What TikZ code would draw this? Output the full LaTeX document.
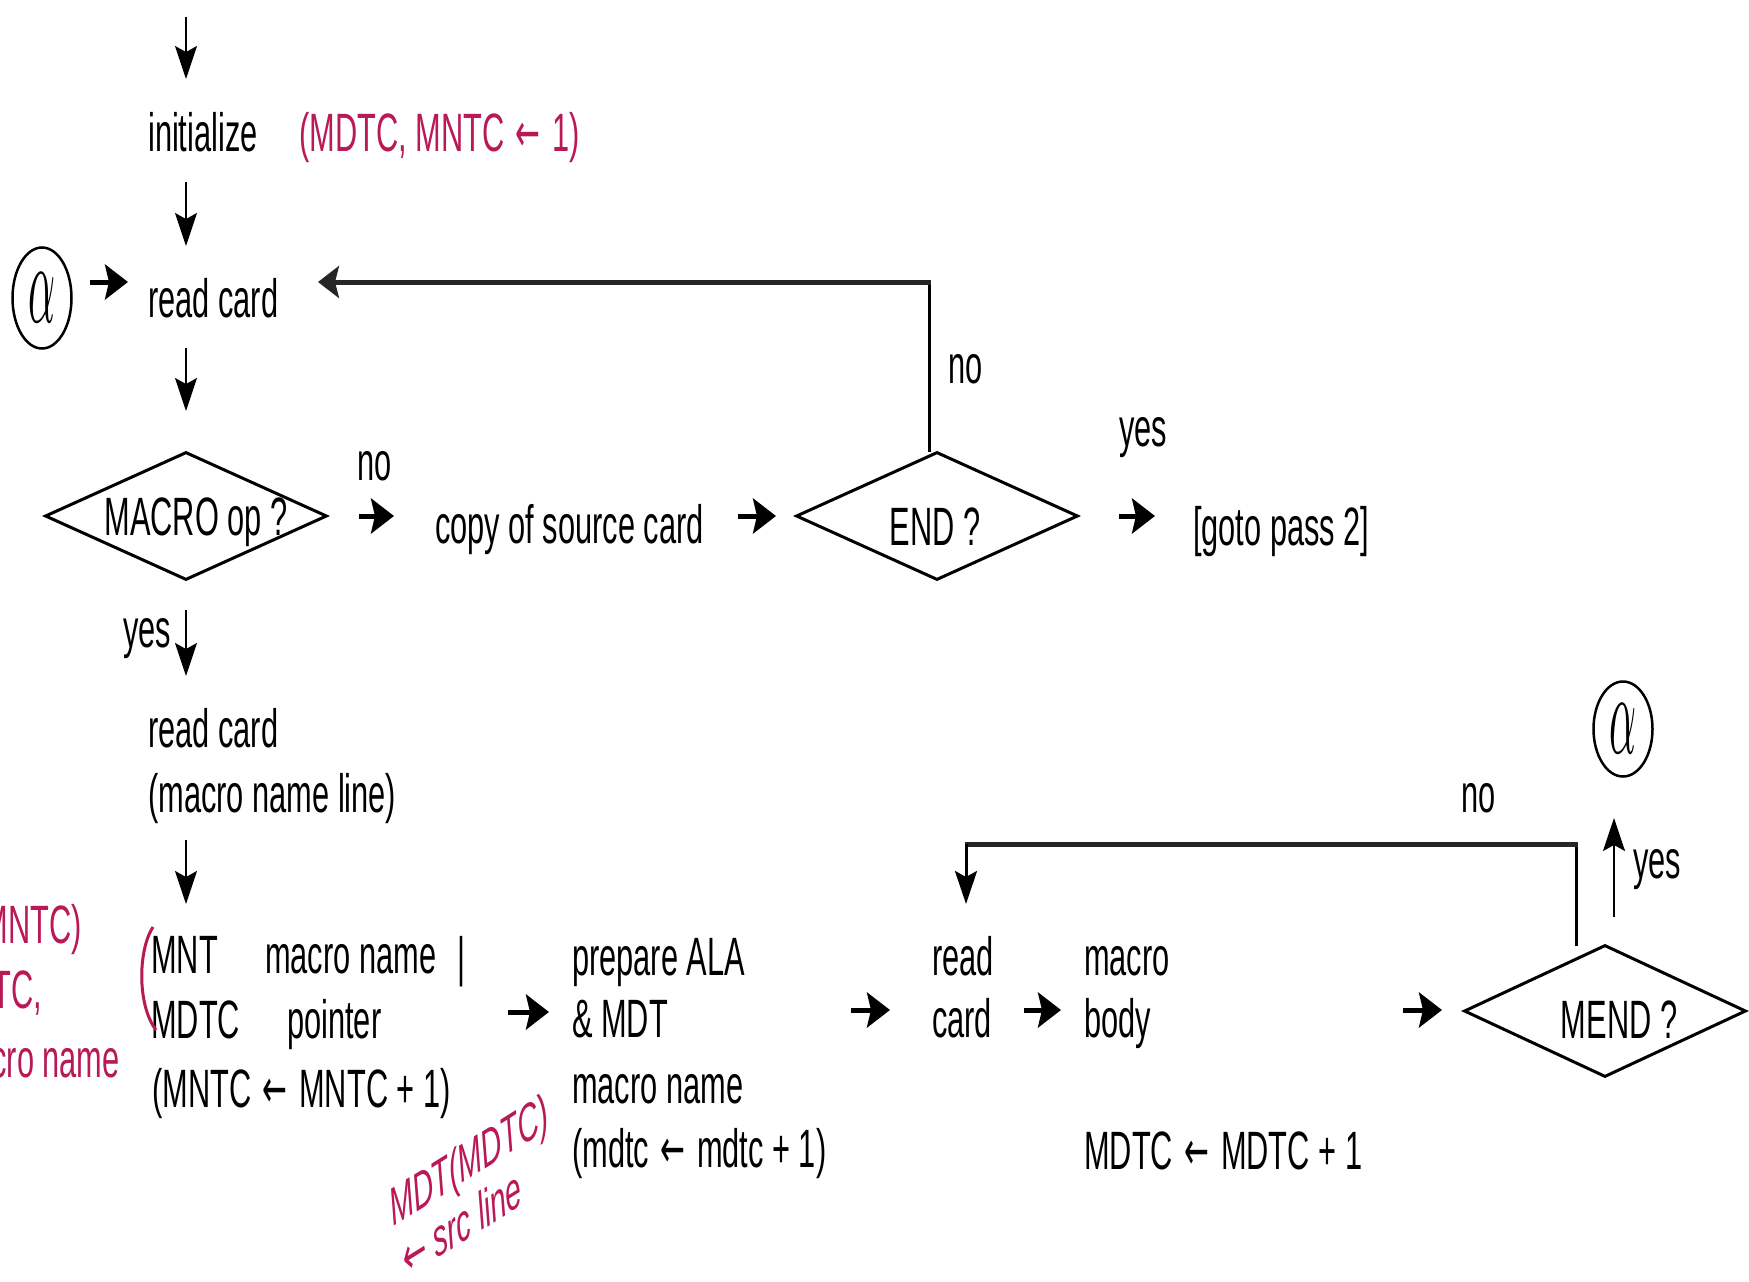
\documentclass[tikz,border=0pt]{standalone}
\usepackage{fontspec}
\setmainfont[FakeStretch=0.57]{Liberation Sans}
\newfontfamily\plainsans{Liberation Sans}
\newfontfamily\arrfont[FakeStretch=0.55]{DejaVu Sans}
\newfontfamily\arrplain{DejaVu Sans}
\usetikzlibrary{arrows.meta,shapes.geometric}
\definecolor{anno}{RGB}{185,25,85}
\newcommand{\la}{\hspace{3pt}{\arrfont ←}\hspace{3pt}}
\newcommand{\lap}{{\arrplain\upshape ←}}
\begin{document}
\begin{tikzpicture}[x=1pt,y=-1pt,
  txt/.style={font=\fontsize{54}{60}\selectfont, inner sep=0pt, anchor=base west},
  red/.style={txt, text=anno},
  rottxt/.style={rotate=19, transform shape, anchor=base west, inner sep=0pt, text=anno,
        font=\plainsans\itshape\fontsize{53}{60}\selectfont},
  dia/.style={shape=diamond, draw, line width=3pt, inner sep=0pt, minimum width=282pt, minimum height=128pt},
  conn/.style={ellipse, draw, line width=2.5pt, inner sep=0pt, minimum width=59pt, minimum height=101pt},
  varr/.style={line width=2pt, -{Stealth[length=33pt,width=22pt,inset=6pt]}},
  harr/.style={line width=5pt, -{Stealth[length=23pt,width=35pt,inset=4pt]}},
  hline/.style={line width=5pt, draw=black!85},
  vline/.style={line width=3pt}
]
\useasboundingbox[fill=white] (0,0) rectangle (1749,1282);
\newcommand{\alphglyph}{\scalebox{4.2}[11.5]{$\alpha$}}

% ---- top part
\coordinate (top0) at (186,17);
\coordinate (top1) at (186,79);
\node[txt] (init) at (148,151) {initialize};
\node[red] (initr) at (299,151) {(MDTC, MNTC \la{} 1)};
\coordinate (i0) at (186,182);
\coordinate (i1) at (186,246);
\node[conn] (a1) at (42,298) {\alphglyph};
\coordinate (a1e) at (90,282);
\coordinate (rc1w) at (128,282);
\node[txt] (rc1) at (148,317) {read card};
\coordinate (r0) at (186,348);
\coordinate (r1) at (186,411);

\node[dia] (d1) at (186,516) {};
\node[txt, anchor=base] (d1t) at (196,535) {MACRO op ?};
\node[txt] (no1) at (357,480) {no};
\coordinate (n0) at (359,516);
\coordinate (n1) at (394,516);
\node[txt] (copy) at (435,543) {copy of source card};
\coordinate (c0) at (738,516);
\coordinate (c1) at (776,516);
\node[dia] (d2) at (937,516) {};
\node[txt, anchor=base] (d2t) at (935,545) {END ?};
\node[txt] (no2) at (948,383) {no};
\node[txt] (yes1) at (1119,446) {yes};
\coordinate (e0) at (1119,516);
\coordinate (e1) at (1155,516);
\node[txt] (goto) at (1193,545) {[goto pass 2]};

% loop back to read card
\coordinate (lb) at (929,452);
\coordinate (lc) at (929,282);
\coordinate (lt) at (318,282);

% ---- middle
\node[txt] (yes2) at (123,647) {yes};
\coordinate (y0) at (186,610);
\coordinate (y1) at (186,676);
\node[txt] (rc2) at (148,747) {read card};
\node[txt] (mnl) at (148,812) {(macro name line)};
\coordinate (m0) at (186,840);
\coordinate (m1) at (186,904);

% ---- bottom row
\node[txt] (mnt1) at (151,973) {MNT};
\node[txt] (mnt2) at (265,973) {macro name};
\node[txt] (bar) at (457,975) {|};
\node[txt] (mdtc1) at (151,1038) {MDTC};
\node[txt] (ptr) at (287,1038) {pointer};
\node[txt] (inc) at (152,1107) {(MNTC \la{} MNTC + 1)};

\node[red, anchor=base east] (ra1) at (82,943) {MNT(MNTC)};
\node[red, anchor=base east] (ra2) at (42,1008) {\la{} MDTC,};
\node[red, anchor=base east] (ra3) at (120,1077) {macro name};
\draw[anno, line width=3pt] (153,927) .. controls (138,950) and (137,1005) .. (156,1030);

\coordinate (p0) at (508,1012);
\coordinate (p1) at (549,1012);
\node[txt] (prep1) at (572,975) {prepare ALA};
\node[txt] (prep2) at (572,1037) {\& MDT};
\node[txt] (prep3) at (572,1103) {macro name};
\node[txt] (prep4) at (572,1167) {(mdtc \la{} mdtc + 1)};

\begin{scope}[shift={(393,1227)}, xscale=0.55]
  \node[rottxt] (rot1) at (0,0) {MDT(MDTC)};
\end{scope}
\begin{scope}[shift={(406,1278)}, xscale=0.55]
  \node[rottxt] (rot2) at (0,0) {\lap{} src line};
\end{scope}

\coordinate (q0) at (851,1010);
\coordinate (q1) at (890,1010);
\node[txt] (rd) at (932,975) {read};
\node[txt] (cd) at (932,1037) {card};
\coordinate (s0) at (1024,1010);
\coordinate (s1) at (1061,1010);
\node[txt] (mb1) at (1084,975) {macro};
\node[txt] (mb2) at (1084,1037) {body};
\node[txt] (mdinc) at (1084,1169) {MDTC \la{} MDTC + 1};
\coordinate (t0) at (1403,1010);
\coordinate (t1) at (1442,1010);
\node[dia, minimum height=132pt] (d3) at (1605,1011) {};
\node[txt, anchor=base] (d3t) at (1619,1038) {MEND ?};
\node[txt] (no3) at (1461,812) {no};
\node[txt] (yes3) at (1633,878) {yes};
\node[conn, minimum height=95pt] (a2) at (1623,729) {\alphglyph};
\coordinate (u0) at (1614,917);
\coordinate (u1) at (1614,818);

% bottom loop
\coordinate (b0) at (1576,946);
\coordinate (b1) at (1576,844);
\coordinate (b2) at (966,844);
\coordinate (b3) at (966,904);

% ---- connectors
\draw[varr] (top0) -- (top1);
\draw[varr] (i0) -- (i1);
\draw[harr] (a1e) -- (rc1w);
\draw[varr] (r0) -- (r1);
\draw[harr] (n0) -- (n1);
\draw[harr] (c0) -- (c1);
\draw[harr] (e0) -- (e1);
\draw[vline] (lb) -- (lc);
\draw[hline, -{Stealth[length=21pt,width=32pt,inset=4pt]}] ([xshift=1.5pt]lc) -- (lt);
\draw[varr] (y0) -- (y1);
\draw[varr] (m0) -- (m1);
\draw[harr] (p0) -- (p1);
\draw[harr] (q0) -- (q1);
\draw[harr] (s0) -- (s1);
\draw[harr] (t0) -- (t1);
\draw[varr] (u0) -- (u1);
\draw[vline] (b0) -- (b1);
\draw[hline] ([xshift=1.5pt]b1) -- ([xshift=-1.5pt]b2);
\draw[varr, line width=3pt] (b2) -- (b3);
\end{tikzpicture}
\end{document}
